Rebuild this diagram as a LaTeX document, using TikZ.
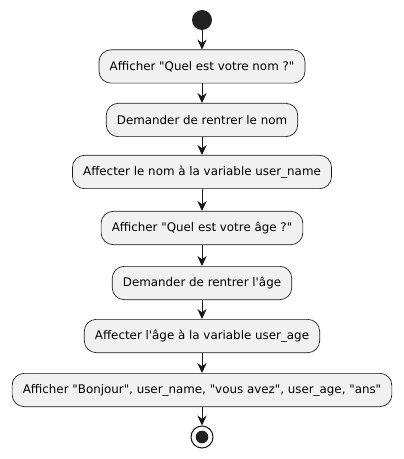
\documentclass[tikz,border=0pt]{standalone}
\usepackage{fontspec}
\setmainfont{DejaVu Sans}[Ligatures=TeXOff]
\usetikzlibrary{arrows.meta}
\definecolor{lineC}{HTML}{181818}
\definecolor{boxC}{HTML}{F1F1F1}
\definecolor{dotC}{HTML}{222222}
\tikzset{
  act/.style={draw=lineC, line width=0.5pt, fill=boxC, rounded corners=9pt,
    minimum height=25pt, inner xsep=8pt, inner ysep=0pt, font=\fontsize{8.9}{11}\selectfont, text=black},
  flow/.style={draw=lineC, line width=0.75pt, -{Stealth[length=7.5pt,width=7pt,inset=2.5pt]}}
}
\begin{document}
\begin{tikzpicture}[x=0.75pt,y=-0.75pt]
\useasboundingbox (0,0) rectangle (403,459);
\node[circle, fill=dotC, inner sep=0pt, minimum size=15pt] (start) at (202,20) {};
\node[act] (a1) at (202,66.5) {Afficher "Quel est votre nom ?"};
\node[act] (a2) at (202,120) {Demander de rentrer le nom};
\node[act] (a3) at (202,172) {Affecter le nom à la variable user\_name};
\node[act] (a4) at (202,228) {Afficher "Quel est votre âge ?"};
\node[act] (a5) at (202,283) {Demander de rentrer l'âge};
\node[act] (a6) at (202,336) {Affecter l'âge à la variable user\_age};
\node[act] (a7) at (202,390) {Afficher "Bonjour", user\_name, "vous avez", user\_age, "ans"};
\node[circle, draw=lineC, line width=0.8pt, fill=white, inner sep=0pt, minimum size=16.5pt] (stop) at (202,437) {};
\node[circle, fill=dotC, inner sep=0pt, minimum size=9.5pt] (stopdot) at (stop.center) {};
\draw[flow] (start) -- (a1);
\draw[flow] (a1) -- (a2);
\draw[flow] (a2) -- (a3);
\draw[flow] (a3) -- (a4);
\draw[flow] (a4) -- (a5);
\draw[flow] (a5) -- (a6);
\draw[flow] (a6) -- (a7);
\draw[flow] (a7) -- (stop);
\end{tikzpicture}
\end{document}
